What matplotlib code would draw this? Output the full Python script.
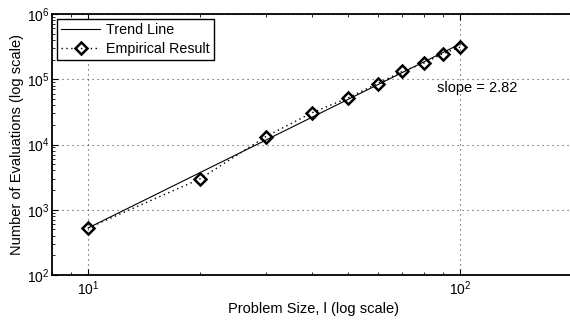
import matplotlib
matplotlib.use("Agg")
import matplotlib.pyplot as plt
import numpy as np
from matplotlib.ticker import LogLocator, NullFormatter

plt.rcParams['font.family'] = ['Liberation Sans', 'DejaVu Sans']
plt.rcParams['mathtext.fontset'] = 'custom'
plt.rcParams['mathtext.rm'] = 'Liberation Sans'
plt.rcParams['mathtext.it'] = 'Liberation Sans'

# problem sizes and measured evaluation counts
problem_size = [10, 20, 30, 40, 50, 60, 70, 80, 90, 100]
evaluations = [525, 2970, 13150, 30600, 51800, 85900, 132000, 177000, 247000, 311000]

# fitted power law: evaluations ~ trend_at_10 * (size/10)^slope
trend_slope = 2.82
trend_at_10 = 525
trend_x = [10, 100]

fig = plt.figure(figsize=(5.7, 3.2), dpi=100)
ax = fig.add_axes([52/570, 45/320, 524/570, 261/320])

trend_y = [trend_at_10 * (x / 10.0) ** trend_slope for x in trend_x]
ax.loglog(trend_x, trend_y, '-', color='k', linewidth=0.8, label='Trend Line')
ax.loglog(problem_size, evaluations, linestyle=(0, (1, 2.5)), color='k', linewidth=1.0,
          marker='D', markersize=6.5, markerfacecolor='none',
          markeredgecolor='k', markeredgewidth=1.8, label='Empirical Result')

ax.set_xlim(8, 205)
ax.set_ylim(1e2, 1e6)
ax.xaxis.set_minor_locator(LogLocator(base=10, subs=np.arange(2, 10)))
ax.yaxis.set_minor_locator(LogLocator(base=10, subs=np.arange(2, 10)))
ax.xaxis.set_minor_formatter(NullFormatter())
ax.yaxis.set_minor_formatter(NullFormatter())

ax.grid(True, which='major', linestyle=(0, (1, 3.5)), color='#444444', linewidth=0.8)
ax.tick_params(which='both', direction='in', top=True, right=True,
               labelsize=10, colors='k')
ax.tick_params(which='major', length=4, width=0.8)
ax.tick_params(which='minor', length=2.5, width=0.6)
ax.tick_params(axis='x', pad=3)
ax.tick_params(axis='y', pad=2)
for s in ax.spines.values():
    s.set_linewidth(1.3)

ax.set_xlabel('Problem Size, l (log scale)', fontsize=10.5, labelpad=3)
ax.set_ylabel('Number of Evaluations (log scale)', fontsize=10.5, labelpad=2)
ax.text(86.7, 73500, 'slope = %.2f' % trend_slope, fontsize=10.5,
        ha='left', va='center')

leg = ax.legend(loc='upper left', fontsize=10.3, fancybox=False,
                edgecolor='k', framealpha=1, borderaxespad=0.35,
                handlelength=2.7, handletextpad=0.4, borderpad=0.3,
                labelspacing=0.3)
leg.get_frame().set_linewidth(1.0)

fig.savefig('out.png', dpi=100)
